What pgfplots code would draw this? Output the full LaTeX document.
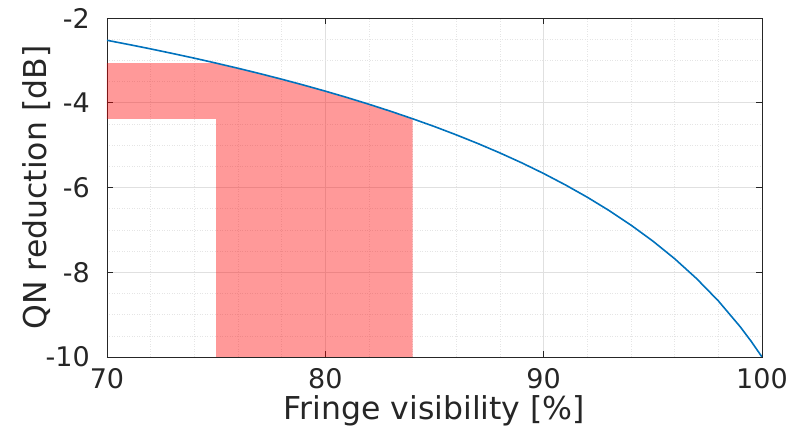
\documentclass[border=0pt]{standalone}
\usepackage{pgfplots}
\pgfplotsset{compat=1.18}
\usepackage{fontspec}
\setmainfont{DejaVu Sans}
\definecolor{mblue}{rgb}{0,0.447,0.741}
\definecolor{axgray}{rgb}{0.15,0.15,0.15}
\begin{document}
\fontsize{27}{32}\selectfont
\begin{tikzpicture}
\useasboundingbox (-107pt,-84pt) rectangle (685pt,357pt);
\begin{axis}[
  scale only axis, width=655pt, height=339pt,
  at={(0,0)}, anchor=south west,
  xmin=70, xmax=100, ymin=-10, ymax=-2,
  xtick={70,80,90,100}, ytick={-10,-8,-6,-4,-2},
  minor xtick={72,74,76,78,82,84,86,88,92,94,96,98},
  minor ytick={-9.5,-9,-8.5,-7.5,-7,-6.5,-5.5,-5,-4.5,-3.5,-3,-2.5},
  grid=both,
  major grid style={line width=0.6pt, black!12},
  minor grid style={line width=0.5pt, black!10, dotted},
  tick align=inside,
  major tick length=6pt, minor tick length=0pt,
  axis line style={axgray, line width=0.6pt},
  tick style={axgray, line width=0.6pt},
  ticklabel style={font=\fontsize{27}{32}\selectfont, text=axgray},
  /pgf/number format/assume math mode=true,
  yticklabel style={xshift=-8pt},
  xticklabel style={yshift=-2pt},
  xlabel={Fringe visibility [\%]},
  ylabel={QN reduction [dB]},
  label style={font=\fontsize{31.5}{38}\selectfont, text=axgray},
  xlabel style={at={(axis description cs:0.5,-0.16)}, anchor=center},
  ylabel style={at={(axis description cs:-0.108,0.5)}, anchor=center},
  axis on top=false,
]
\addplot[draw=none, fill=red, fill opacity=0.4] coordinates {
  (70,-4.378) (70,-3.065) (75,-3.065) (76,-3.186) (77,-3.312) (78,-3.444)
  (79,-3.582) (80,-3.726) (81,-3.877) (82,-4.036) (83,-4.202) (84,-4.378)
  (84,-10) (75,-10) (75,-4.378)
} -- cycle;
\addplot[mblue, line width=1.6pt] coordinates {
  (70,-2.526) (71,-2.626) (72,-2.729) (73,-2.837) (74,-2.948) (75,-3.065)
  (76,-3.186) (77,-3.312) (78,-3.444) (79,-3.582) (80,-3.726) (81,-3.877)
  (82,-4.036) (83,-4.202) (84,-4.378) (85,-4.562) (86,-4.758) (87,-4.965)
  (88,-5.185) (89,-5.419) (90,-5.670) (91,-5.940) (92,-6.230) (93,-6.545)
  (94,-6.888) (95,-7.264) (96,-7.681) (97,-8.148) (98,-8.676) (99,-9.285)
  (99.5,-9.627) (100,-10)
};
\end{axis}
\end{tikzpicture}
\end{document}
